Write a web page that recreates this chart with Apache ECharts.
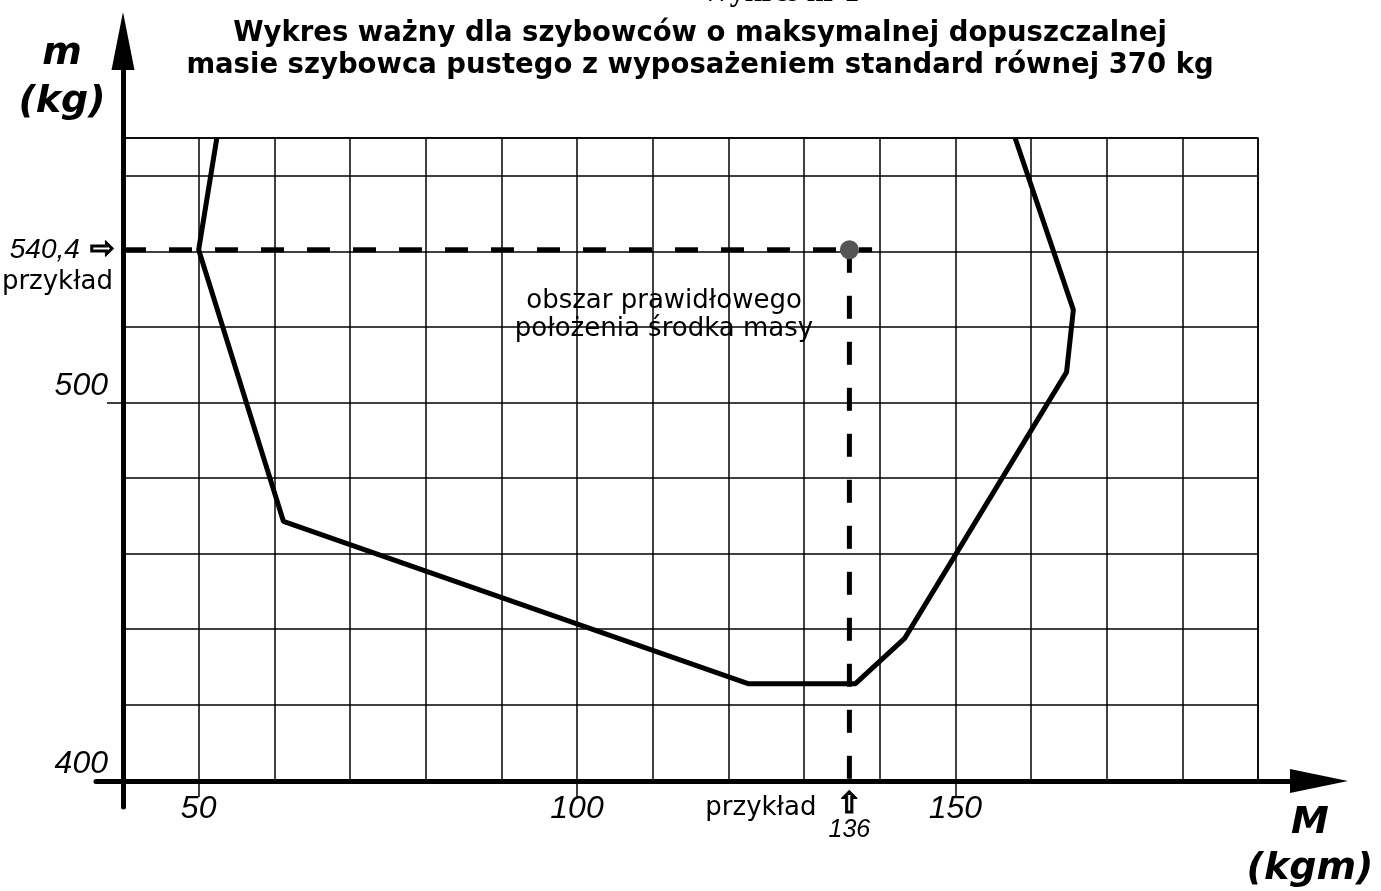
<!DOCTYPE html>
<html>
<head>
<meta charset="utf-8">
<script src="https://cdn.jsdelivr.net/npm/echarts@6/dist/echarts.min.js"></script>
<style>
  html, body { margin: 0; padding: 0; background: #fff; }
  #chart { width: 1381px; height: 891px; }
</style>
</head>
<body>
<div id="chart"></div>
<script>
// DATA
const boundaryM = [52.4, 50, 61.2, 122.6, 136.8, 143.3, 164.7, 165.6, 157.9];
const boundaryMass = [570, 540.4, 468.5, 425.5, 425.5, 437.5, 508, 524.5, 570];
const exampleM = 136;
const exampleMass = 540.4;
const exampleLineEndM = 139;
const xTickValues = [50, 100, 150];
const yTickValues = [500];
const yLabelValues = [400, 500];
const titleLines = [
    'Wykres ważny dla szybowców o maksymalnej dopuszczalnej',
    'masie szybowca pustego z wyposażeniem standard równej 370 kg'
];
const areaLabel = ['obszar prawidłowego', 'położenia środka masy'];

const chartPlaceholder = document.querySelector('#chart');
const chart = echarts.init(chartPlaceholder);

const sans = 'DejaVu Sans';
const digits = 'Liberation Sans';
const ink = '#000';

const boundaryData = boundaryM.map((m, i) => [m, boundaryMass[i]]);

const option = {
    animation: false,
    backgroundColor: '#fff',
    grid: [
        // main drawing area
        { left: 123, right: 123, top: 138, bottom: 111, show: true, borderColor: ink, borderWidth: 1.5, outerBoundsMode: 'none' },
        // x axis with arrow
        { left: 96, right: 62, top: 138, bottom: 110, outerBoundsMode: 'none' },
        // y axis with arrow
        { left: 123, right: 123, top: 41, bottom: 84, outerBoundsMode: 'none' }
    ],
    xAxis: [
        // ticks and labels (bottom)
        {
            gridIndex: 0,
            type: 'value',
            position: 'bottom',
            min: 40,
            max: 190,
            axisLine: { show: false },
            axisTick: {
                show: true,
                customValues: xTickValues,
                length: 17,
                lineStyle: { color: ink, width: 1.5 }
            },
            axisLabel: {
                show: true,
                customValues: xTickValues.concat([exampleM]),
                margin: 12,
                hideOverlap: false,
                formatter: function (value) {
                    if (value === exampleM) {
                        return '{arr|⇧}\n{sm|' + value + '}';
                    }
                    return '{n|' + value + '}';
                },
                rich: {
                    n: { fontFamily: digits, fontStyle: 'italic', fontSize: 32, color: ink, lineHeight: 34 },
                    arr: { fontFamily: sans, fontWeight: 'bold', fontSize: 30, color: ink, lineHeight: 26, textBorderColor: ink, textBorderWidth: 1 },
                    sm: { fontFamily: digits, fontStyle: 'italic', fontSize: 25, color: ink, lineHeight: 24 }
                }
            },
            splitLine: { show: false }
        },
        {
            gridIndex: 1,
            type: 'value',
            min: 0,
            max: 1,
            axisLine: {
                show: true,
                onZero: false,
                symbol: ['none', 'triangle'],
                symbolSize: [24, 58],
                lineStyle: { color: ink, width: 5 }
            },
            axisTick: { show: false },
            axisLabel: { show: false },
            splitLine: { show: false }
        },
        {
            gridIndex: 2,
            type: 'value',
            min: 0,
            max: 1,
            show: false
        },
        // grid lines every 10 kgm
        {
            gridIndex: 0,
            type: 'value',
            min: 40,
            max: 190,
            interval: 10,
            axisLine: { show: false },
            axisTick: { show: false },
            axisLabel: { show: false },
            splitLine: { show: true, lineStyle: { color: ink, width: 1.5 } }
        }
    ],
    yAxis: [
        // ticks and labels (left)
        {
            gridIndex: 0,
            type: 'value',
            position: 'left',
            min: 400,
            max: 570,
            axisLine: { show: false },
            axisTick: {
                show: true,
                customValues: yTickValues,
                length: 16,
                lineStyle: { color: ink, width: 1.5 }
            },
            axisLabel: {
                show: true,
                customValues: yLabelValues,
                margin: 15,
                verticalAlign: 'bottom',
                fontFamily: digits,
                fontStyle: 'italic',
                fontSize: 32,
                color: ink,
                hideOverlap: false
            },
            splitLine: { show: false }
        },
        {
            gridIndex: 1,
            type: 'value',
            min: 0,
            max: 1,
            show: false
        },
        {
            gridIndex: 2,
            type: 'value',
            min: 0,
            max: 1,
            axisLine: {
                show: true,
                onZero: false,
                symbol: ['none', 'triangle'],
                symbolSize: [23, 58],
                lineStyle: { color: ink, width: 5 }
            },
            axisTick: { show: false },
            axisLabel: { show: false },
            splitLine: { show: false }
        },
        // grid lines every 20 kg
        {
            gridIndex: 0,
            type: 'value',
            min: 400,
            max: 570,
            interval: 20,
            axisLine: { show: false },
            axisTick: { show: false },
            axisLabel: { show: false },
            splitLine: { show: true, lineStyle: { color: ink, width: 1.5 } }
        }
    ],
    graphic: [
        {
            type: 'text',
            x: 780,
            y: 8,
            style: {
                text: 'Wykres nr 1',
                fontFamily: 'Liberation Serif',
                fontWeight: 'bold',
                fontSize: 30,
                fill: ink,
                align: 'center',
                verticalAlign: 'bottom'
            }
        },
        {
            type: 'text',
            x: 700,
            y: 50,
            style: {
                text: titleLines.join('\n'),
                fontFamily: sans,
                fontWeight: 'bold',
                fontSize: 27.5,
                lineHeight: 32,
                fill: ink,
                align: 'center',
                verticalAlign: 'middle'
            }
        },
        {
            type: 'text',
            x: 62,
            y: 78,
            style: {
                text: 'm\n(kg)',
                fontFamily: sans,
                fontWeight: 'bold',
                fontStyle: 'italic',
                fontSize: 38,
                lineHeight: 48,
                fill: ink,
                align: 'center',
                verticalAlign: 'middle'
            }
        },
        {
            type: 'text',
            x: 1310,
            y: 846,
            style: {
                text: 'M\n(kgm)',
                fontFamily: sans,
                fontWeight: 'bold',
                fontStyle: 'italic',
                fontSize: 38,
                lineHeight: 46,
                fill: ink,
                align: 'center',
                verticalAlign: 'middle'
            }
        }
    ],
    series: [
        {
            name: 'granica',
            type: 'line',
            xAxisIndex: 0,
            yAxisIndex: 0,
            data: boundaryData,
            symbol: 'none',
            lineStyle: { color: ink, width: 5 },
            z: 5
        },
        {
            name: 'przykład masa',
            type: 'line',
            xAxisIndex: 0,
            yAxisIndex: 0,
            data: [[40, exampleMass], [exampleLineEndM, exampleMass]],
            symbol: 'none',
            lineStyle: { color: ink, width: 5, type: [23, 23] },
            z: 4
        },
        {
            name: 'przykład moment',
            type: 'line',
            xAxisIndex: 0,
            yAxisIndex: 0,
            data: [[exampleM, exampleMass], [exampleM, 400]],
            symbol: 'none',
            lineStyle: { color: ink, width: 5, type: [23, 23] },
            z: 4
        },
        {
            name: 'punkt',
            type: 'scatter',
            xAxisIndex: 0,
            yAxisIndex: 0,
            data: [[exampleM, exampleMass]],
            symbolSize: 19,
            itemStyle: { color: '#555', opacity: 1 },
            z: 6
        },
        {
            name: 'opisy',
            type: 'scatter',
            xAxisIndex: 0,
            yAxisIndex: 0,
            symbolSize: 0,
            silent: true,
            itemStyle: { opacity: 1 },
            z: 7,
            data: [
                {
                    value: [40, exampleMass],
                    label: {
                        show: true,
                        position: 'left',
                        distance: 8,
                        formatter: '{n|540,4}{a|⇨}',
                        rich: {
                            n: { fontFamily: digits, fontStyle: 'italic', fontSize: 28, color: ink },
                            a: { fontFamily: sans, fontWeight: 'bold', fontSize: 30, color: ink, padding: [0, 0, 0, 10], textBorderColor: ink, textBorderWidth: 1 }
                        }
                    }
                },
                {
                    value: [40, exampleMass],
                    label: {
                        show: true,
                        position: 'left',
                        distance: 10,
                        offset: [0, 32],
                        formatter: 'przykład',
                        fontFamily: sans,
                        fontSize: 26,
                        color: ink
                    }
                },
                {
                    value: [exampleM, 400],
                    label: {
                        show: true,
                        position: 'left',
                        distance: 33,
                        offset: [0, 28],
                        formatter: 'przykład',
                        fontFamily: sans,
                        fontSize: 26,
                        color: ink
                    }
                },
                {
                    value: [111.5, 523],
                    label: {
                        show: true,
                        position: 'inside',
                        formatter: areaLabel.join('\n'),
                        fontFamily: sans,
                        fontSize: 26,
                        lineHeight: 28,
                        color: ink
                    }
                }
            ]
        }
    ]
};

chart.setOption(option);
</script>
</body>
</html>
